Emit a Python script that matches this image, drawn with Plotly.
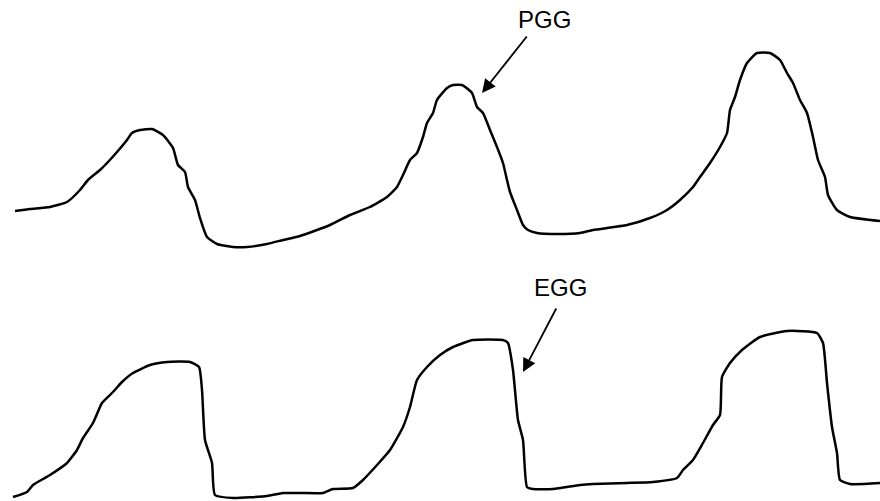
import plotly.graph_objects as go

# Waveform samples: time position and amplitude (amplitude measured upward)
pgg_t = [15, 30, 50, 67, 80, 88, 100, 108, 117, 127, 132, 140, 152, 163, 173, 178, 185, 188, 195,
         200, 207, 217, 233, 247, 267, 283, 300, 330, 350, 370, 387, 397, 403, 410, 417, 423, 427,
         433, 437, 447, 453, 462, 472, 477, 483, 490, 497, 503, 507, 510, 517, 523, 528, 537, 557,
         580, 593, 627, 650, 667, 680, 693, 700, 710, 720, 727, 730, 735, 740, 747, 757, 770, 780,
         787, 793, 800, 807, 813, 818, 825, 828, 837, 850, 880]
pgg_v = [290, 292, 294, 299, 311, 321, 331, 339, 349, 361, 368, 371, 372, 366, 353, 336, 329, 314, 301,
         283, 264, 257, 254, 254, 257, 261, 265, 276, 286, 294, 304, 314, 326, 341, 348, 364, 378,
         388, 401, 413, 416, 416, 408, 394, 388, 371, 354, 338, 321, 309, 291, 276, 271, 268, 267,
         268, 271, 276, 283, 291, 301, 314, 324, 338, 354, 368, 391, 404, 421, 438, 448, 448, 441,
         428, 418, 401, 388, 364, 341, 324, 306, 291, 284, 280]

egg_t = [13, 27, 33, 50, 67, 77, 83, 93, 102, 113, 122, 133, 150, 167, 190, 199, 202, 205, 212,
         215, 233, 267, 283, 300, 323, 333, 353, 363, 377, 390, 403, 410, 417, 427, 440, 453, 473,
         503, 508, 513, 518, 523, 527, 533, 553, 580, 593, 627, 653, 677, 683, 693, 703, 713, 720,
         722, 730, 742, 760, 787, 817, 823, 827, 832, 837, 840, 850, 880]
egg_v = [4, 9, 16, 26, 38, 51, 63, 78, 98, 109, 119, 128, 136, 139, 139, 134, 111, 61, 38,
         6, 3, 5, 8, 8, 8, 12, 13, 21, 36, 51, 74, 94, 121, 134, 146, 154, 161,
         161, 158, 131, 81, 61, 14, 12, 12, 16, 17, 18, 19, 23, 31, 41, 58, 76, 86,
         124, 138, 151, 164, 170, 168, 158, 118, 74, 48, 21, 17, 18]

fig = go.Figure()
for t, v in ((pgg_t, pgg_v), (egg_t, egg_v)):
    fig.add_trace(go.Scatter(x=t, y=v, mode="lines",
                             line=dict(color="black", width=2.5, shape="spline", smoothing=0.5),
                             hoverinfo="skip", showlegend=False))

label_font = dict(family="Liberation Sans, Arial, sans-serif", size=24, color="black")

# Signal labels with pointer arrows
fig.add_annotation(x=544, y=482, text="PGG", showarrow=False, font=label_font)
fig.add_annotation(x=482, y=408, ax=528, ay=466, axref="x", ayref="y", text="",
                   showarrow=True, arrowhead=2, arrowsize=1.5, arrowwidth=1.8, arrowcolor="black")
fig.add_annotation(x=560, y=214, text="EGG", showarrow=False, font=label_font)
fig.add_annotation(x=523, y=129, ax=557, ay=194, axref="x", ayref="y", text="",
                   showarrow=True, arrowhead=2, arrowsize=1.5, arrowwidth=1.8, arrowcolor="black")

fig.update_layout(
    width=880, height=501,
    margin=dict(l=0, r=0, t=0, b=0),
    paper_bgcolor="white", plot_bgcolor="white",
    xaxis=dict(range=[0, 880], visible=False, fixedrange=True),
    yaxis=dict(range=[0, 501], visible=False, fixedrange=True),
)

fig.write_html("out.html")
